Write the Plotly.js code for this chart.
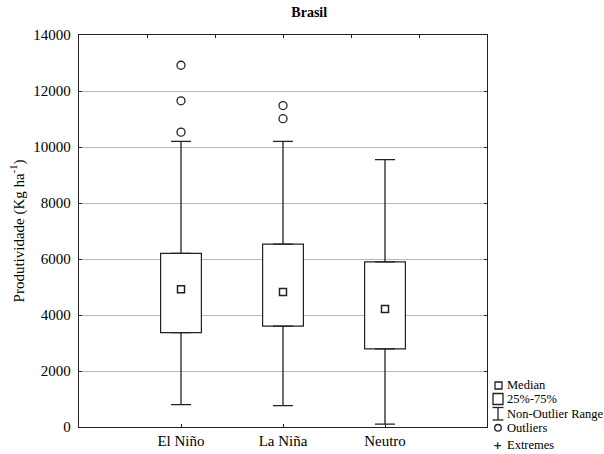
<!DOCTYPE html>
<html>
<head>
<meta charset="utf-8">
<script src="https://cdn.plot.ly/plotly-3.0.1.min.js"></script>
<style>html,body{margin:0;padding:0;background:#fff;}</style>
</head>
<body>
<div id="chart" style="width:604px;height:454px;"></div>
<script>
const categories = ['El Niño', 'La Niña', 'Neutro'];
const medians = [4920, 4820, 4210];
const q1 = [3370, 3600, 2790];
const q3 = [6200, 6530, 5900];
const whiskerLow = [800, 760, 100];
const whiskerHigh = [10200, 10200, 9550];
const outlierCats = ['El Niño', 'El Niño', 'El Niño', 'La Niña', 'La Niña'];
const outlierVals = [12920, 11650, 10530, 11480, 11010];
const yTicks = [0, 2000, 4000, 6000, 8000, 10000, 12000, 14000];
const legendItems = ['Median', '25%-75%', 'Non-Outlier Range', 'Outliers', 'Extremes'];

const serif = 'Liberation Serif';
const ink = '#222';
const xpos = categories.map((c, i) => i + 1);
const opos = outlierCats.map(c => categories.indexOf(c) + 1);

const traces = [
  {
    type: 'bar', x: xpos, y: q3.map((v, i) => v - q1[i]), base: q1, width: 0.4,
    marker: {color: '#fff', line: {color: ink, width: 1.2}}, showlegend: false, hoverinfo: 'skip'
  },
  {
    type: 'scatter', mode: 'markers', x: xpos, y: q3,
    marker: {size: 1, color: 'rgba(0,0,0,0)'},
    error_y: {type: 'data', symmetric: false, array: whiskerHigh.map((v, i) => v - q3[i]),
      arrayminus: q3.map(() => 0), width: 10, thickness: 1.3, color: ink},
    showlegend: false, hoverinfo: 'skip'
  },
  {
    type: 'scatter', mode: 'markers', x: xpos, y: q1,
    marker: {size: 1, color: 'rgba(0,0,0,0)'},
    error_y: {type: 'data', symmetric: false, array: q1.map(() => 0),
      arrayminus: q1.map((v, i) => v - whiskerLow[i]), width: 10, thickness: 1.3, color: ink},
    showlegend: false, hoverinfo: 'skip'
  },
  {
    type: 'scatter', mode: 'markers', x: xpos, y: medians,
    marker: {symbol: 'square-open', size: 7, color: ink, line: {width: 1.5}},
    showlegend: false
  },
  {
    type: 'scatter', mode: 'markers', x: opos, y: outlierVals,
    marker: {symbol: 'circle-open', size: 8, color: ink, line: {width: 1.3}},
    showlegend: false
  },
  {
    type: 'scatter', mode: 'markers', x: [], y: [], xaxis: 'x2', showlegend: false
  }
];

// legend key drawn beside the plot (pixel helpers relative to the plot area)
const L = 79, R = 487, T = 35, B = 427;
const xp = px => (px - L) / (R - L);
const yp = py => (B - py) / (B - T);
const sym = {line: {color: ink, width: 1.3}};
const shapes = [
  Object.assign({type: 'rect', xref: 'paper', yref: 'paper', x0: xp(495), x1: xp(502), y0: yp(382), y1: yp(389)}, sym),
  Object.assign({type: 'rect', xref: 'paper', yref: 'paper', x0: xp(493), x1: xp(503), y0: yp(393.5), y1: yp(404.5)}, sym),
  Object.assign({type: 'line', xref: 'paper', yref: 'paper', x0: xp(498), x1: xp(498), y0: yp(407.5), y1: yp(420)}, sym),
  Object.assign({type: 'line', xref: 'paper', yref: 'paper', x0: xp(492.5), x1: xp(503.5), y0: yp(407.5), y1: yp(407.5)}, sym),
  Object.assign({type: 'line', xref: 'paper', yref: 'paper', x0: xp(492.5), x1: xp(503.5), y0: yp(420), y1: yp(420)}, sym),
  Object.assign({type: 'circle', xref: 'paper', yref: 'paper', x0: xp(494.7), x1: xp(501.3), y0: yp(424.5), y1: yp(431.1)}, sym)
];
const rowCenters = [385, 399, 414, 428, 445];
const annotations = legendItems.map((t, i) => ({
  xref: 'paper', yref: 'paper', x: xp(505), y: yp(rowCenters[i]),
  xanchor: 'left', yanchor: 'middle', showarrow: false, text: t,
  font: {family: serif, size: 12.5, color: '#000'}
}));
annotations.push({
  xref: 'paper', yref: 'paper', x: xp(498), y: yp(445),
  xanchor: 'center', yanchor: 'middle', showarrow: false, text: '+',
  font: {family: 'DejaVu Sans', size: 11, color: ink, weight: 'bold'}
});

const layout = {
  width: 604, height: 454,
  margin: {l: L, r: 604 - R, t: T, b: 454 - B},
  paper_bgcolor: '#fff', plot_bgcolor: '#fff',
  showlegend: false,
  font: {family: serif},
  title: {text: '<b>Brasil</b>', x: 0.512, xref: 'container', xanchor: 'center',
    y: 0.974, yref: 'container', yanchor: 'middle',
    font: {family: serif, size: 14, color: '#000'}},
  xaxis: {
    range: [0, 4], tickvals: xpos, ticktext: categories,
    ticks: 'inside', ticklen: 3, tickcolor: ink, showline: true, linecolor: ink, linewidth: 1.3,
    showgrid: false, zeroline: false,
    tickfont: {family: serif, size: 15, color: '#000'}
  },
  xaxis2: {
    overlaying: 'x', side: 'top', anchor: 'y', range: [0, 6], tickvals: [1, 2, 3, 4, 5],
    ticks: 'inside', ticklen: 3, tickcolor: ink, showticklabels: false,
    showline: true, linecolor: ink, linewidth: 1.3, showgrid: false, zeroline: false
  },
  yaxis: {
    range: [0, 14000], tickvals: yTicks, ticktext: yTicks.map(String),
    ticks: 'inside', ticklen: 3, tickcolor: ink,
    showline: true, linecolor: ink, linewidth: 1.3, mirror: 'ticks',
    showgrid: true, gridcolor: '#b8b8b8', gridwidth: 1, zeroline: false,
    tickfont: {family: serif, size: 15, color: '#000'},
    ticklabelstandoff: 4,
    title: {text: 'Produtividade (Kg ha<sup>-1</sup>)', standoff: 5,
      font: {family: serif, size: 15, color: '#000'}}
  },
  shapes: shapes,
  annotations: annotations
};

Plotly.newPlot('chart', traces, layout, {displayModeBar: false, staticPlot: true});
</script>
</body>
</html>
